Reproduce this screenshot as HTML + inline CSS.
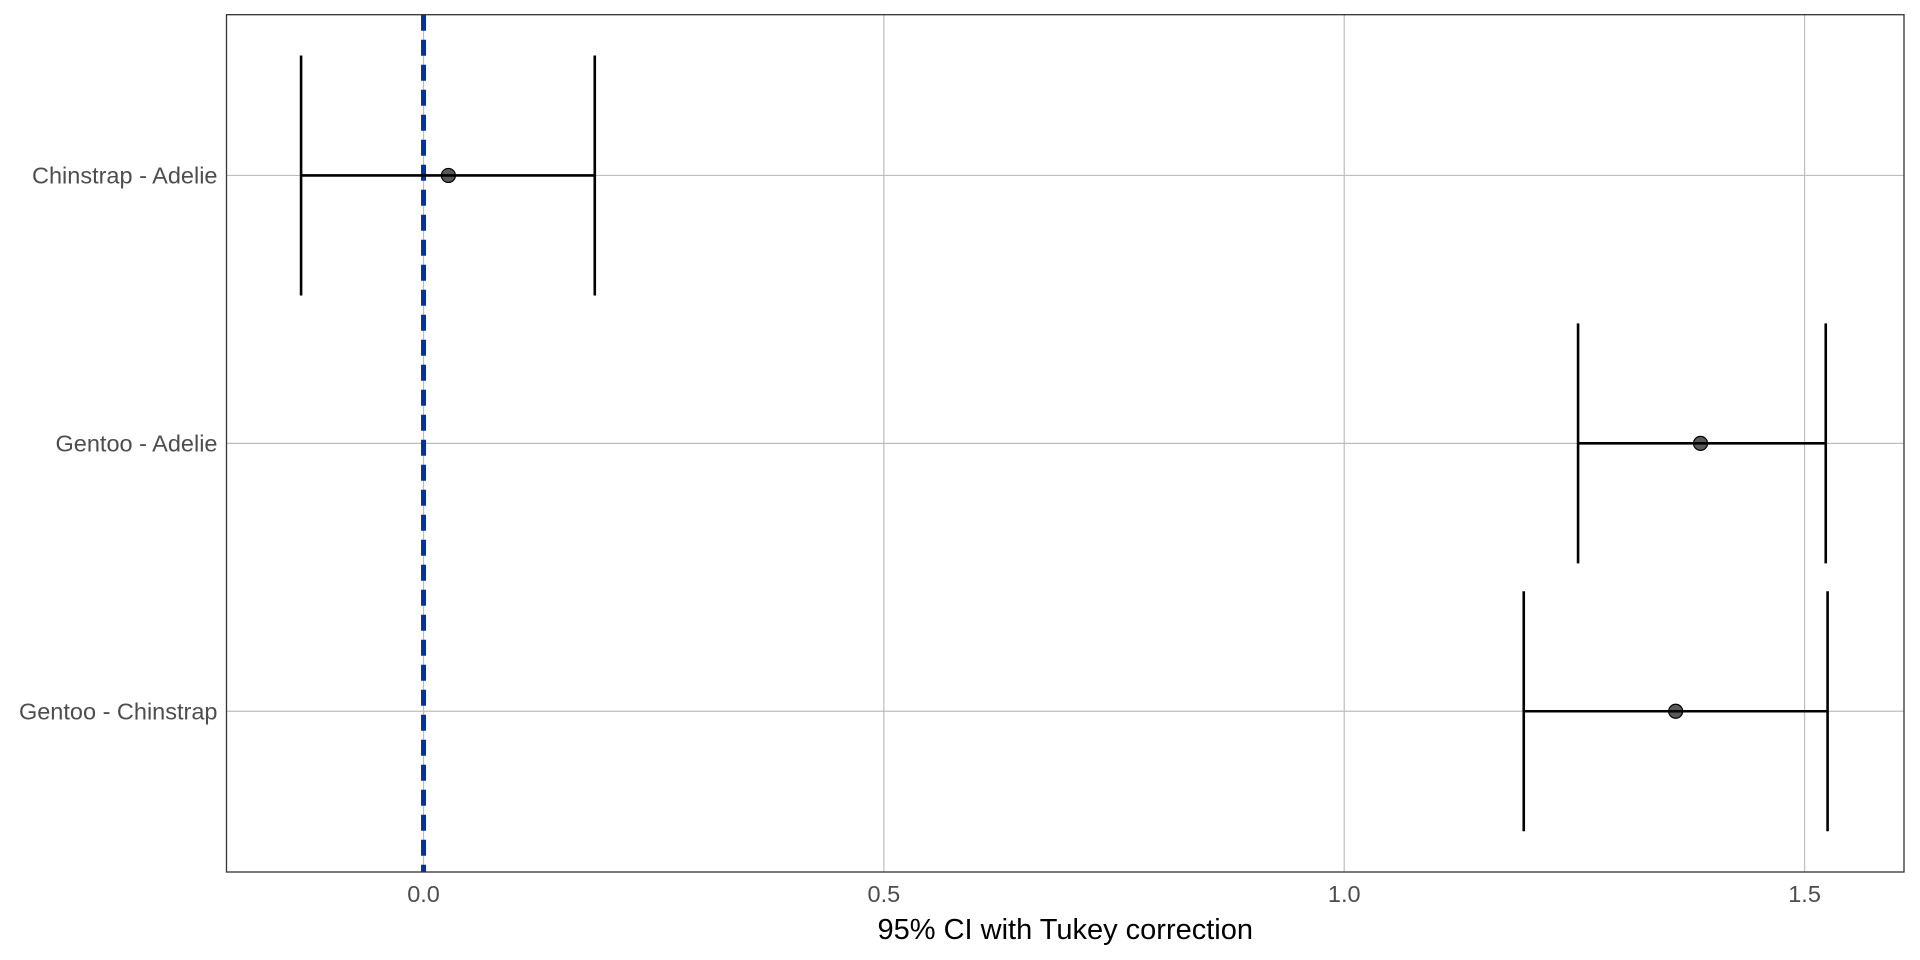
<!DOCTYPE html>
<html><head><meta charset="utf-8"><style>
html,body{margin:0;padding:0;background:#fff;}
svg{display:block;font-family:"Liberation Sans",sans-serif;}
</style></head><body>
<svg id="chart" width="1920" height="960" viewBox="0 0 1920 960"></svg>
<script>
const categories = ["Chinstrap - Adelie", "Gentoo - Adelie", "Gentoo - Chinstrap"];
const estimates = [0.027, 1.387, 1.360];
const lowers = [-0.133, 1.254, 1.195];
const uppers = [0.186, 1.523, 1.525];
const xTicks = [0, 0.5, 1.0, 1.5];
const xTickLabels = ["0.0", "0.5", "1.0", "1.5"];

const NS = "http://www.w3.org/2000/svg";
const svg = document.getElementById("chart");
const P = {l: 226.5, r: 1904, t: 14.7, b: 872};
const xMin = -0.214, xMax = 1.608;
const x = v => P.l + (v - xMin) / (xMax - xMin) * (P.r - P.l);
const yMin = 0.4, yMax = 3.6;
const y = i => P.t + ((i + 1) - yMin) / (yMax - yMin) * (P.b - P.t);
const capH = 120;

function mk(tag, attrs, parent) {
  const e = document.createElementNS(NS, tag);
  for (const k in attrs) e.setAttribute(k, attrs[k]);
  (parent || svg).appendChild(e);
  return e;
}

xTicks.forEach((t, i) => {
  const g = mk("line", {x1: x(t), x2: x(t), y1: P.t, y2: P.b, stroke: "#bdbdbd", "stroke-width": 1.2});
  
  
  const tx = mk("text", {x: x(t), y: P.b + 30, "text-anchor": "middle", "font-size": 23.5, fill: "#4d4d4d"});
  tx.textContent = xTickLabels[i];
  
  
});
categories.forEach((c, i) => {
  const g = mk("line", {x1: P.l, x2: P.r, y1: y(i), y2: y(i), stroke: "#bdbdbd", "stroke-width": 1.2});
  
  
  const tx = mk("text", {x: P.l - 9, y: y(i) + 8, "text-anchor": "end", "font-size": 23.5, fill: "#4d4d4d"});
  tx.textContent = c;
  
  
});

const zl = mk("line", {x1: x(0), x2: x(0), y1: P.t, y2: P.b, stroke: "#0033a0", "stroke-width": 5, "stroke-dasharray": "16,9"});



categories.forEach((c, i) => {
  const g = mk("g", {stroke: "#000", "stroke-width": 2.6});
  
  
  mk("line", {x1: x(lowers[i]), x2: x(uppers[i]), y1: y(i), y2: y(i)}, g);
  mk("line", {x1: x(lowers[i]), x2: x(lowers[i]), y1: y(i) - capH, y2: y(i) + capH}, g);
  mk("line", {x1: x(uppers[i]), x2: x(uppers[i]), y1: y(i) - capH, y2: y(i) + capH}, g);
  const p = mk("circle", {cx: x(estimates[i]), cy: y(i), r: 7, fill: "rgba(0,0,0,0.65)", stroke: "#000", "stroke-width": 1.2});
  
  
});

const br = mk("rect", {x: P.l, y: P.t, width: P.r - P.l, height: P.b - P.t, fill: "none", stroke: "#333", "stroke-width": 1.3});



const xt = mk("text", {x: (P.l + P.r) / 2, y: 939, "text-anchor": "middle", "font-size": 29, fill: "#000"});
xt.textContent = "95% CI with Tukey correction";


</script>
</body></html>
